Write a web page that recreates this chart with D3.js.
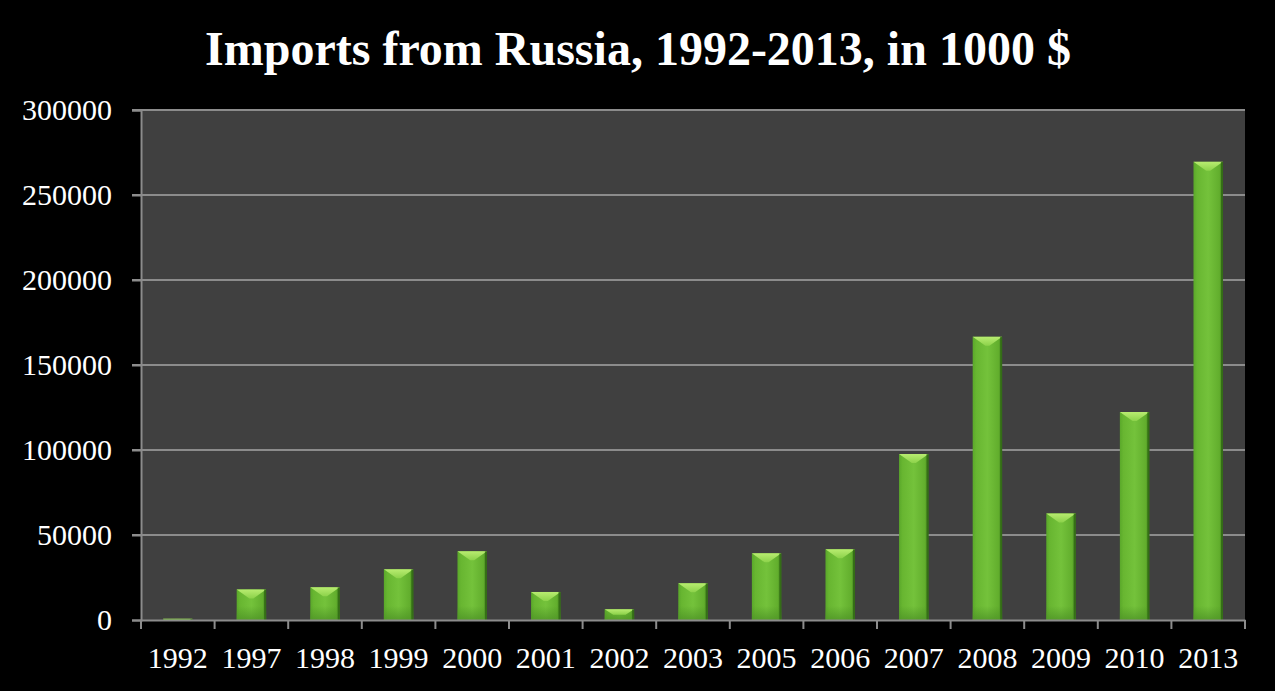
<!DOCTYPE html>
<html>
<head>
<meta charset="utf-8">
<script src="https://cdn.jsdelivr.net/npm/d3@7"></script>
<style>
  html, body { margin: 0; padding: 0; background: #000; }
  svg { display: block; }
</style>
</head>
<body>
<svg id="chart" width="1275" height="691"></svg>
<script>
// Imports from Russia, thousands of US dollars
const years = ["1992", "1997", "1998", "1999", "2000", "2001", "2002", "2003",
               "2005", "2006", "2007", "2008", "2009", "2010", "2013"];
const imports = [700, 18000, 19200, 29800, 40400, 16500, 6300, 21600,
                 39200, 41600, 97600, 166600, 62700, 122300, 269500];
const yTicks = [0, 50000, 100000, 150000, 200000, 250000, 300000];
const titleText = "Imports from Russia, 1992-2013, in 1000 $";

const svg = d3.select("#chart");
const W = 1275, H = 691;
const m = { left: 141, right: 30, top: 110, bottom: 71 };
const innerW = W - m.left - m.right;
const innerH = H - m.top - m.bottom;
const serif = "'Liberation Serif', 'Times New Roman', serif";

svg.append("rect").attr("width", W).attr("height", H).attr("fill", "#000");

const x = d3.scaleBand().domain(years).range([m.left, m.left + innerW]).paddingInner(0.6).paddingOuter(0.3);
const xTickScale = d3.scaleBand().domain(years).range([m.left, m.left + innerW]);
const y = d3.scaleLinear().domain([0, 300000]).range([m.top + innerH, m.top]);

// plot area
svg.append("rect")
  .attr("x", m.left).attr("y", m.top)
  .attr("width", innerW).attr("height", innerH)
  .attr("fill", "#404040");

// gradients for the bars
const defs = svg.append("defs");
const body = defs.append("linearGradient").attr("id", "barBody")
  .attr("x1", "0").attr("x2", "1").attr("y1", "0").attr("y2", "0");
body.append("stop").attr("offset", "0").attr("stop-color", "#5aa82a");
body.append("stop").attr("offset", "0.12").attr("stop-color", "#68b631");
body.append("stop").attr("offset", "0.5").attr("stop-color", "#74c23b");
body.append("stop").attr("offset", "0.88").attr("stop-color", "#62ae2d");
body.append("stop").attr("offset", "1").attr("stop-color", "#3f7f1c");

const topBevel = defs.append("linearGradient").attr("id", "barTop")
  .attr("x1", "0").attr("x2", "0").attr("y1", "0").attr("y2", "1");
topBevel.append("stop").attr("offset", "0").attr("stop-color", "#b8ec70");
topBevel.append("stop").attr("offset", "1").attr("stop-color", "#8cd24a");

const bottomShade = defs.append("linearGradient").attr("id", "barBottom")
  .attr("x1", "0").attr("x2", "0").attr("y1", "0").attr("y2", "1");
bottomShade.append("stop").attr("offset", "0").attr("stop-color", "#4e9426").attr("stop-opacity", 0);
bottomShade.append("stop").attr("offset", "1").attr("stop-color", "#4e9426").attr("stop-opacity", 0.8);

// gridlines
svg.append("g")
  .selectAll("line")
  .data(yTicks.filter(d => d > 0))
  .join("line")
  .attr("x1", m.left - 9).attr("x2", m.left + innerW)
  .attr("y1", d => y(d)).attr("y2", d => y(d))
  .attr("stroke", "#8c8c8c").attr("stroke-width", 2);

// bars
const bars = svg.append("g").selectAll("g")
  .data(years.map((yr, i) => ({ yr, v: imports[i] })))
  .join("g");

bars.append("rect")
  .attr("x", d => x(d.yr))
  .attr("y", d => y(d.v))
  .attr("width", x.bandwidth())
  .attr("height", d => y(0) - y(d.v))
  .attr("fill", "url(#barBody)");

// soft shading at the foot of each bar
bars.append("rect")
  .attr("x", d => x(d.yr))
  .attr("y", d => Math.max(y(d.v), y(0) - 14))
  .attr("width", x.bandwidth())
  .attr("height", d => Math.min(14, y(0) - y(d.v)))
  .attr("fill", "url(#barBottom)");

// bevelled cap on each bar
bars.append("path")
  .attr("d", d => {
    const x0 = x(d.yr), x1 = x0 + x.bandwidth(), t = y(d.v);
    const h = Math.min(9, (y(0) - t) / 2);
    const inset = Math.min(x.bandwidth() / 2 - 2, h * 1.6);
    return `M${x0},${t}L${x1},${t}L${x1 - inset},${t + h}L${x0 + inset},${t + h}Z`;
  })
  .attr("fill", "url(#barTop)");

// darker right edge
bars.append("rect")
  .attr("x", d => x(d.yr) + x.bandwidth() - 2)
  .attr("y", d => y(d.v))
  .attr("width", 2)
  .attr("height", d => y(0) - y(d.v))
  .attr("fill", "#2f6614")
  .attr("opacity", 0.8);

// y axis
const yAxis = svg.append("g")
  .attr("transform", `translate(${m.left},0)`)
  .call(d3.axisLeft(y).tickValues(yTicks).tickSize(9).tickPadding(20).tickFormat(d3.format("d")));
yAxis.select(".domain").attr("stroke", "#8c8c8c").attr("stroke-width", 2);
yAxis.selectAll(".tick line").attr("stroke", "#8c8c8c").attr("stroke-width", 2);
yAxis.selectAll("text")
  .attr("fill", "#fff")
  .attr("font-family", serif)
  .attr("font-size", 30);

// x axis
const xAxis = svg.append("g")
  .attr("transform", `translate(0,${m.top + innerH})`)
  .call(d3.axisBottom(xTickScale).tickSize(0).tickPadding(27));
xAxis.select(".domain").attr("stroke", "#8c8c8c").attr("stroke-width", 2);
xAxis.selectAll("text")
  .attr("fill", "#fff")
  .attr("font-family", serif)
  .attr("font-size", 30);

// tick marks between categories
svg.append("g")
  .selectAll("line")
  .data(years.concat(["__end"]))
  .join("line")
  .attr("x1", (d, i) => m.left + i * xTickScale.step())
  .attr("x2", (d, i) => m.left + i * xTickScale.step())
  .attr("y1", m.top + innerH)
  .attr("y2", m.top + innerH + 9)
  .attr("stroke", "#8c8c8c").attr("stroke-width", 2);

// title
svg.append("text")
  .attr("x", 638).attr("y", 65)
  .attr("text-anchor", "middle")
  .attr("fill", "#fff")
  .attr("font-family", serif)
  .attr("font-weight", "bold")
  .attr("font-size", 48)
  .text(titleText);
</script>
</body>
</html>
